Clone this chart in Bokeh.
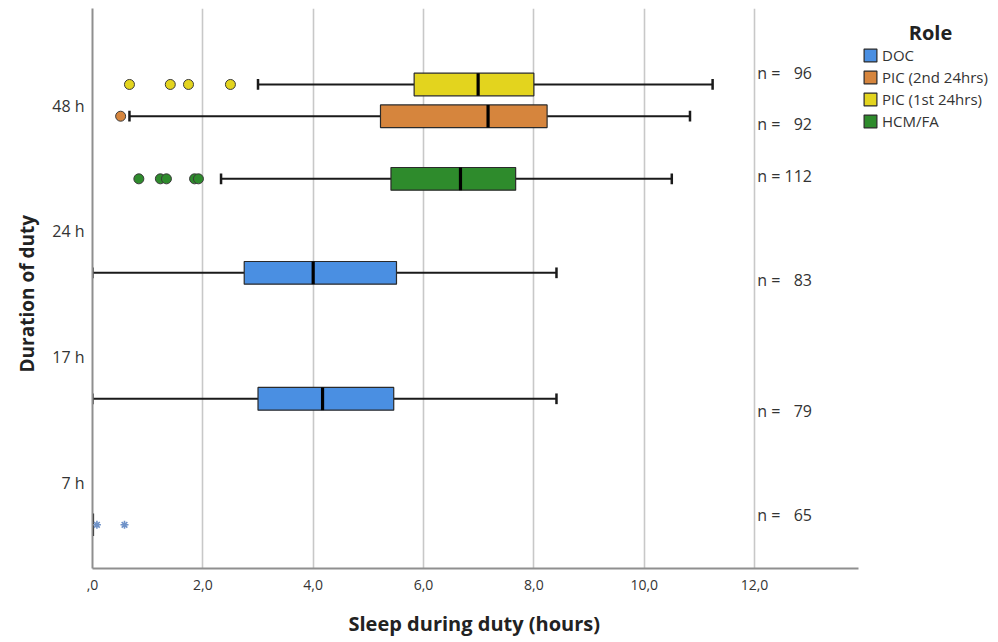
from bokeh.plotting import figure
from bokeh.models import Range1d, FixedTicker, Legend, LegendItem, Label, ColumnDataSource, Title
from bokeh.core.properties import value
from bokeh.embed import file_html
from bokeh.resources import INLINE

# ---------------- data ----------------
duty_labels = ["48 h", "24 h", "17 h", "7 h"]
legend_roles = ["DOC", "PIC (2nd 24hrs)", "PIC (1st 24hrs)", "HCM/FA"]

box_duty = ["48 h", "48 h", "48 h", "24 h", "17 h", "7 h"]
box_role = ["PIC (1st 24hrs)", "PIC (2nd 24hrs)", "HCM/FA", "DOC", "DOC", "DOC"]
whisker_low = [3.0, 0.67, 2.33, 0.0, 0.0, 0.0]
q1 = [5.83, 5.22, 5.41, 2.75, 3.0, 0.0]
median = [6.99, 7.17, 6.67, 4.0, 4.17, 0.0]
q3 = [8.0, 8.24, 7.67, 5.51, 5.46, 0.0]
whisker_high = [11.24, 10.83, 10.5, 8.41, 8.41, 0.0]
n_counts = [96, 92, 112, 83, 79, 65]

outlier_box = [0, 0, 0, 0, 1, 2, 2, 2, 2, 2]
outlier_val = [0.67, 1.41, 1.74, 2.50, 0.51, 0.84, 1.23, 1.34, 1.85, 1.92]
extreme_box = [5, 5]
extreme_val = [0.08, 0.58]

x_ticks = [0, 2, 4, 6, 8, 10, 12]
x_tick_labels = [",0", "2,0", "4,0", "6,0", "8,0", "10,0", "12,0"]

# ---------------- layout / style ----------------
duty_pos = {"48 h": 3, "24 h": 2, "17 h": 1, "7 h": 0}
role_offset = {"PIC (1st 24hrs)": 0.167, "PIC (2nd 24hrs)": -0.085,
               "HCM/FA": -0.582, "DOC": -0.328}
nlabel_shift = [0.09, -0.065, 0.02, -0.055, -0.095, 0.08]
role_color = {"DOC": "#4A8FE2", "PIC (2nd 24hrs)": "#D6853D",
              "PIC (1st 24hrs)": "#E3D41E", "HCM/FA": "#2E8B2C"}
box_h = 0.18
cap_h = 0.085
axis_end = 13.885
FONT = "Open Sans"
TXT = "#333333"

ys = [duty_pos[d] + role_offset[r] for d, r in zip(box_duty, box_role)]

p = figure(frame_width=898, frame_height=560, output_backend="svg",
           toolbar_location=None, x_range=Range1d(0, 16.277),
           y_range=Range1d(-0.675, 3.77),
           min_border_left=92, min_border_right=0, min_border_top=8,
           min_border_bottom=66)
p.outline_line_color = None
p.background_fill_color = "white"

# axes
p.xaxis.ticker = FixedTicker(ticks=x_ticks)
p.xaxis.major_label_overrides = {t: l for t, l in zip(x_ticks, x_tick_labels)}
p.xaxis.bounds = (0, axis_end)
p.yaxis.ticker = FixedTicker(ticks=[duty_pos[d] for d in duty_labels])
p.yaxis.major_label_overrides = {duty_pos[d]: d for d in duty_labels}
for ax in (p.xaxis, p.yaxis):
    ax.axis_line_color = "#8f8f8f"
    ax.axis_line_width = 2
    ax.major_tick_line_color = None
    ax.minor_tick_line_color = None
    ax.major_label_text_font = FONT
    ax.major_label_text_color = TXT
p.xaxis.major_label_text_font_size = "14px"
p.xaxis.major_label_standoff = 5
p.yaxis.major_label_text_font_size = "16px"
p.yaxis.major_label_standoff = 2

# axis titles (side titles so they can be positioned like the reference)
x_title = Title(text="Sleep during duty (hours)", align="left", offset=256,
                text_font=FONT, text_font_style="bold", text_font_size="20px",
                text_color="#222222", standoff=31)
p.add_layout(x_title, "below")
y_title = Title(text="Duration of duty", align="left", offset=196,
                text_font=FONT, text_font_style="bold", text_font_size="19px",
                text_color="#222222", standoff=19)
p.add_layout(y_title, "left")

p.xgrid.ticker = FixedTicker(ticks=x_ticks[1:])
p.xgrid.grid_line_color = "#c8c8c8"
p.xgrid.grid_line_width = 1.6
p.ygrid.grid_line_color = None

# whiskers
p.segment(x0=whisker_low, y0=ys, x1=q1, y1=ys, line_color="#1a1a1a", line_width=2)
p.segment(x0=q3, y0=ys, x1=whisker_high, y1=ys, line_color="#1a1a1a", line_width=2)
# caps
ylo = [y - cap_h / 2 for y in ys]
yhi = [y + cap_h / 2 for y in ys]
p.segment(x0=whisker_low, y0=ylo, x1=whisker_low, y1=yhi, line_color="#1a1a1a", line_width=2.5)
p.segment(x0=whisker_high, y0=ylo, x1=whisker_high, y1=yhi, line_color="#1a1a1a", line_width=2.5)

# boxes per role
renderers = {}
for role in legend_roles:
    idx = [i for i, r in enumerate(box_role) if r == role]
    src = ColumnDataSource(dict(y=[ys[i] for i in idx], left=[q1[i] for i in idx],
                                right=[q3[i] for i in idx]))
    renderers[role] = p.hbar(y="y", left="left", right="right", height=box_h, source=src,
                             fill_color=role_color[role], line_color="#2a2a2a",
                             line_width=1.2)

# medians
p.segment(x0=median, y0=[y - box_h / 2 for y in ys], x1=median,
          y1=[y + box_h / 2 for y in ys], line_color="black", line_width=3.2)

# outliers
oy = [ys[b] for b in outlier_box]
oc = [role_color[box_role[b]] for b in outlier_box]
p.scatter(x=outlier_val, y=oy, size=10, fill_color=oc, line_color="#3a3a3a", line_width=1)

# extremes
ey = [ys[b] for b in extreme_box]
p.scatter(x=extreme_val, y=ey, marker="asterisk", size=8, line_color="#6f92c8", line_width=1.6)

# n labels
n_text = ["n = " + str(n).rjust(3, "\u2007") for n in n_counts]
p.text(x=[12.05] * len(n_counts), y=[y + s for y, s in zip(ys, nlabel_shift)],
       text=n_text, text_font=value(FONT), text_font_size="16px",
       text_color=TXT, text_baseline="middle", text_align="left")

# legend
legend = Legend(items=[LegendItem(label=r, renderers=[renderers[r]]) for r in legend_roles],
                location=(770, 437), orientation="vertical")
legend.glyph_width = 16
legend.glyph_height = 16
legend.label_height = 16
legend.spacing = 2
legend.padding = 0
legend.margin = 0
legend.label_standoff = 4
legend.border_line_color = None
legend.background_fill_alpha = 0
legend.label_text_font = FONT
legend.label_text_font_size = "15px"
legend.label_text_color = TXT
p.add_layout(legend, "center")

p.add_layout(Label(x=838, y=536, x_units="screen", y_units="screen", text="Role",
                   text_font=FONT, text_font_style="bold", text_font_size="20px",
                   text_color="#222222", text_align="center", text_baseline="middle"))

open("out.html", "w").write(file_html(p, INLINE))
